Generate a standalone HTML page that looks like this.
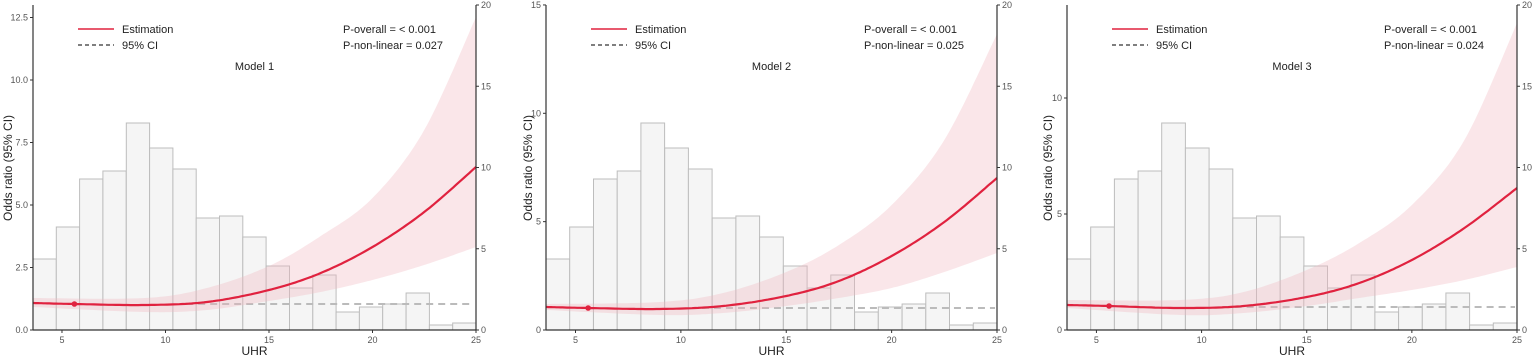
<!DOCTYPE html>
<html><head><meta charset="utf-8">
<style>html,body{margin:0;padding:0;background:#fff;}svg{display:block;font-family:"Liberation Sans",sans-serif;}</style>
</head><body>
<svg id="s" width="1535" height="360" xmlns="http://www.w3.org/2000/svg"></svg>
<script>
const S=document.getElementById('s');let h='';
const heights=[71,103,151,159,207,182,161,112,114,93,64,42,55,18,23,26,37,5,7];
const P=[
{L:33,R:476,ylab:8,model:'Model 1',pnl:'0.027',lt:[[0,'0.0'],[2.5,'2.5'],[5,'5.0'],[7.5,'7.5'],[10,'10.0'],[12.5,'12.5']],ls:25,
est:[[3.6,303],[5.6,304],[9,305],[12,302],[15,290],[17.5,273],[20,247],[22.5,212],[25,167]],
up:[[3.6,298],[9,298],[12,288],[15,266],[17.5,236],[20,198],[22.5,130],[25,17]],
lo:[[3.6,307],[9,312],[12,310],[15,301],[17.5,292],[20,280],[22.5,265],[25,247]],ref:304},
{L:546,R:997,ylab:528,model:'Model 2',pnl:'0.025',lt:[[0,'0'],[5,'5'],[10,'10'],[15,'15']],ls:21.67,
est:[[3.6,307],[5.6,308],[9,309],[12,306],[15,296],[17.5,281],[20,256],[22.5,222],[25,178]],
up:[[3.6,304],[9,302],[12,293],[15,272],[17.5,245],[20,205],[22.5,140],[25,34]],
lo:[[3.6,310],[9,315],[12,313],[15,306],[17.5,298],[20,288],[22.5,272],[25,253]],ref:308},
{L:1067,R:1517,ylab:1048,model:'Model 3',pnl:'0.024',lt:[[0,'0'],[5,'5'],[10,'10']],ls:23.2,
est:[[3.6,305],[5.6,306],[9,308],[12,306],[15,297],[17.5,283],[20,260],[22.5,228],[25,188]],
up:[[3.6,300],[9,300],[12,292],[15,270],[17.5,243],[20,205],[22.5,140],[25,23]],
lo:[[3.6,308],[9,315],[12,313],[15,306],[17.5,298],[20,290],[22.5,280],[25,267]],ref:307}];
function cr(pts,xs){ // catmull-rom sample
 const out=[];
 for(let i=0;i<pts.length-1;i++){
  const p0=pts[Math.max(0,i-1)],p1=pts[i],p2=pts[i+1],p3=pts[Math.min(pts.length-1,i+2)];
  for(let t=0;t<1;t+=0.05){
   const t2=t*t,t3=t2*t;
   const f=(a,b,c,d)=>0.5*(2*b+(-a+c)*t+(2*a-5*b+4*c-d)*t2+(-a+3*b-3*c+d)*t3);
   out.push([xs(f(p0[0],p1[0],p2[0],p3[0])),f(p0[1],p1[1],p2[1],p3[1])]);
  }
 }
 const l=pts[pts.length-1];out.push([xs(l[0]),l[1]]);return out;
}
const B=330,T=5;
P.forEach(p=>{
 const xs=v=>p.L+(v-3.6)*(p.R-p.L)/(25-3.6);
 const bw=(p.R-p.L)/19;
 heights.forEach((hh,i)=>{h+=`<rect x="${(p.L+i*bw).toFixed(1)}" y="${B-hh}" width="${bw.toFixed(1)}" height="${hh}" fill="#f5f5f5" stroke="#bdbdbd" stroke-width="1"/>`;});
 // dashed ref
 h+=`<line x1="${xs(11)}" y1="${p.ref}" x2="${p.R-2}" y2="${p.ref}" stroke="#bbb" stroke-width="2" stroke-dasharray="7,5"/>`;
 const u=cr(p.up,xs),lo=cr(p.lo,xs).reverse();
 h+=`<path d="M${u.map(a=>a[0].toFixed(1)+','+a[1].toFixed(1)).join('L')}L${lo.map(a=>a[0].toFixed(1)+','+a[1].toFixed(1)).join('L')}Z" fill="#f2b8c0" fill-opacity="0.35"/>`;
 const e=cr(p.est,xs);
 h+=`<path d="M${e.map(a=>a[0].toFixed(1)+','+a[1].toFixed(1)).join('L')}" fill="none" stroke="#e0223f" stroke-width="2.2"/>`;
 h+=`<circle cx="${xs(5.6)}" cy="${p.est[1][1]}" r="2.8" fill="#e0223f"/>`;
 // axes
 h+=`<line x1="${p.L}" y1="${T}" x2="${p.L}" y2="${B}" stroke="#333" stroke-width="1.2"/>`;
 h+=`<line x1="${p.R}" y1="${T}" x2="${p.R}" y2="${B}" stroke="#333" stroke-width="1.2"/>`;
 h+=`<line x1="${p.L}" y1="${B}" x2="${p.R}" y2="${B}" stroke="#333" stroke-width="1.2"/>`;
 [5,10,15,20,25].forEach(v=>{const x=xs(v);h+=`<line x1="${x}" y1="${B}" x2="${x}" y2="${B+3}" stroke="#333"/><text x="${x}" y="${B+13}" font-size="9" fill="#555" text-anchor="middle">${v}</text>`;});
 p.lt.forEach(([v,t])=>{const y=B-v*p.ls;h+=`<line x1="${p.L-3}" y1="${y}" x2="${p.L}" y2="${y}" stroke="#333"/><text x="${p.L-5}" y="${y+3}" font-size="9" fill="#555" text-anchor="end">${t}</text>`;});
 [0,5,10,15,20].forEach(v=>{const y=B-v*(B-T)/20;h+=`<line x1="${p.R}" y1="${y}" x2="${p.R+3}" y2="${y}" stroke="#333"/><text x="${p.R+5}" y="${y+3}" font-size="9" fill="#555">${v}</text>`;});
 // labels
 const cx=(p.L+p.R)/2;
 h+=`<text x="${cx}" y="355" font-size="12" fill="#222" text-anchor="middle">UHR</text>`;
 h+=`<text transform="translate(${p.ylab+4},168) rotate(-90)" font-size="12" fill="#222" text-anchor="middle">Odds ratio (95% CI)</text>`;
 h+=`<text x="${cx}" y="70" font-size="11" fill="#222" text-anchor="middle">${p.model}</text>`;
 h+=`<line x1="${p.L+45}" y1="29" x2="${p.L+81}" y2="29" stroke="#e0223f" stroke-width="1.5"/><text x="${p.L+89}" y="33" font-size="11" fill="#222">Estimation</text>`;
 h+=`<line x1="${p.L+45}" y1="45" x2="${p.L+81}" y2="45" stroke="#333" stroke-width="1.3" stroke-dasharray="4,3"/><text x="${p.L+89}" y="49" font-size="11" fill="#222">95% CI</text>`;
 h+=`<text x="${p.R-133}" y="33" font-size="11" fill="#222">P-overall = &lt; 0.001</text>`;
 h+=`<text x="${p.R-133}" y="49" font-size="11" fill="#222">P-non-linear = ${p.pnl}</text>`;
});
S.innerHTML=h;
</script>
</body></html>
